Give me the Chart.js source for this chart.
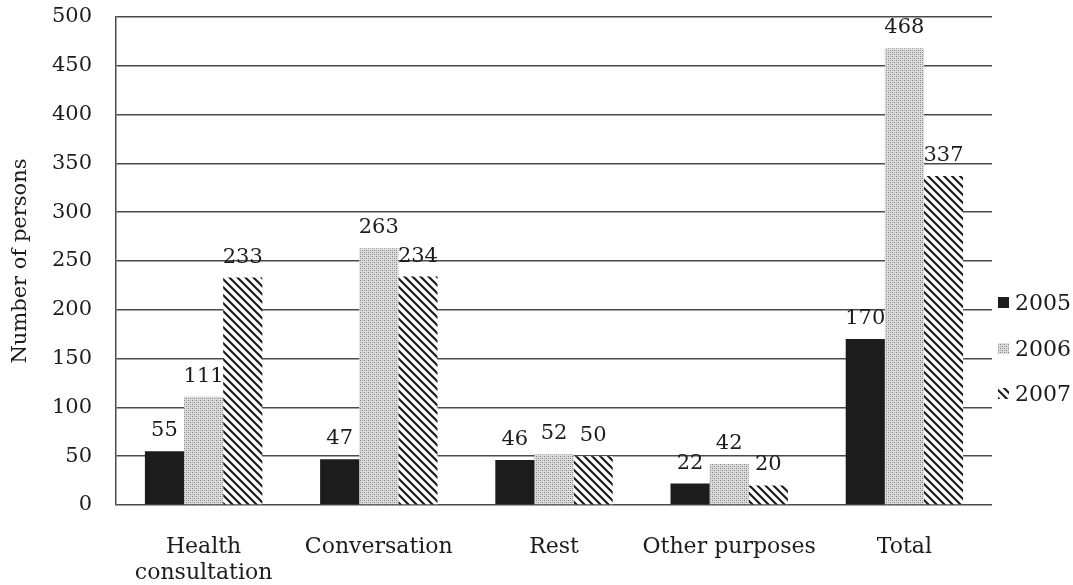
<!DOCTYPE html>
<html>
<head>
<meta charset="utf-8">
<script src="https://cdn.jsdelivr.net/npm/chart.js@4.4.1/dist/chart.umd.min.js"></script>
<style>
  html, body { margin: 0; padding: 0; background: #fff; }
  #wrap { width: 1073px; height: 585px; }
</style>
</head>
<body>
<div id="wrap"><canvas id="c" width="1073" height="585"></canvas></div>
<script>
// Visitors by purpose of visit, per year
const categories = [["Health", "consultation"], "Conversation", "Rest", "Other purposes", "Total"];
const years = ["2005", "2006", "2007"];
const values2005 = [55, 47, 46, 22, 170];
const values2006 = [111, 263, 52, 42, 468];
const values2007 = [233, 234, 50, 20, 337];
const yTicks = [0, 50, 100, 150, 200, 250, 300, 350, 400, 450, 500];

const FONT = "'DejaVu Serif', 'Liberation Serif', serif";
const INK = '#1c1c1c';
const GRID = '#4a4a4a';

// Fill textures
function dotPattern() {
  const t = document.createElement('canvas');
  t.width = 4; t.height = 4;
  const g = t.getContext('2d');
  g.fillStyle = '#dcdcdc';
  g.fillRect(0, 0, 4, 4);
  g.fillStyle = '#808080';
  g.fillRect(0, 0, 1, 1);
  g.fillRect(2, 2, 1, 1);
  g.fillStyle = '#a8a8a8';
  g.fillRect(2, 0, 1, 1);
  g.fillRect(0, 2, 1, 1);
  return g.createPattern(t, 'repeat');
}
function hatchPattern() {
  const s = 8;
  const t = document.createElement('canvas');
  t.width = s; t.height = s;
  const g = t.getContext('2d');
  g.fillStyle = '#ffffff';
  g.fillRect(0, 0, s, s);
  g.strokeStyle = '#1c1c1c';
  g.lineWidth = 2.2;
  g.beginPath();
  g.moveTo(-2, -2); g.lineTo(s + 2, s + 2);
  g.moveTo(-2, s - 2); g.lineTo(2, s + 2);
  g.moveTo(s - 2, -2); g.lineTo(s + 2, 2);
  g.stroke();
  return g.createPattern(t, 'repeat');
}

const fills = [INK, dotPattern(), hatchPattern()];
const seriesValues = [values2005, values2006, values2007];

// Value labels above each bar
const valueLabels = {
  id: 'valueLabels',
  afterDatasetsDraw(chart) {
    const ctx = chart.ctx;
    ctx.save();
    ctx.font = '21px ' + FONT;
    ctx.fillStyle = INK;
    ctx.textAlign = 'center';
    ctx.textBaseline = 'alphabetic';
    chart.data.datasets.forEach((ds, i) => {
      chart.getDatasetMeta(i).data.forEach((bar, j) => {
        ctx.fillText(String(ds.data[j]), bar.x, bar.y - 15);
      });
    });
    ctx.restore();
  }
};

// Legend column at the right of the plot
const sideLegend = {
  id: 'sideLegend',
  afterDraw(chart) {
    const ctx = chart.ctx;
    const x0 = chart.chartArea.right + 6;
    const yCenters = [303, 349, 394];
    ctx.save();
    ctx.font = '22px ' + FONT;
    ctx.textBaseline = 'middle';
    chart.data.datasets.forEach((ds, i) => {
      const y = yCenters[i];
      ctx.fillStyle = ds.backgroundColor;
      ctx.fillRect(x0, y - 6, 11, 11);
      ctx.fillStyle = INK;
      ctx.fillText(ds.label, x0 + 17, y + 1);
    });
    ctx.restore();
  }
};

new Chart(document.getElementById('c'), {
  type: 'bar',
  data: {
    labels: categories,
    datasets: years.map((y, i) => ({
      label: y,
      data: seriesValues[i],
      backgroundColor: fills[i],
      borderWidth: 0,
      categoryPercentage: 0.67,
      barPercentage: 1.0
    }))
  },
  options: {
    responsive: false,
    animation: false,
    devicePixelRatio: 1,
    layout: { padding: { top: 17, right: 81, left: 0, bottom: 0 } },
    plugins: {
      legend: { display: false },
      tooltip: { enabled: false }
    },
    scales: {
      x: {
        grid: { display: false },
        border: { display: false },
        ticks: {
          color: INK,
          font: { family: FONT, size: 22, lineHeight: 1.18 },
          padding: 21,
          maxRotation: 0,
          autoSkip: false
        },
        afterFit(scale) { scale.height = 80; }
      },
      y: {
        min: 0,
        max: 500,
        afterBuildTicks(scale) { scale.ticks = yTicks.map(v => ({ value: v })); },
        grid: { color: GRID, lineWidth: 1.5, tickLength: 0, drawTicks: false },
        border: { display: true, color: GRID, width: 1.5 },
        ticks: {
          color: INK,
          font: { family: FONT, size: 21 },
          padding: 24
        },
        title: {
          display: true,
          text: 'Number of persons',
          color: INK,
          font: { family: FONT, size: 21 },
          padding: { top: 8, bottom: 0 }
        },
        afterFit(scale) {
          scale.width = 116;
          scale.paddingTop = 0;
          scale.paddingBottom = 0;
        }
      }
    }
  },
  plugins: [valueLabels, sideLegend]
});
</script>
</body>
</html>
